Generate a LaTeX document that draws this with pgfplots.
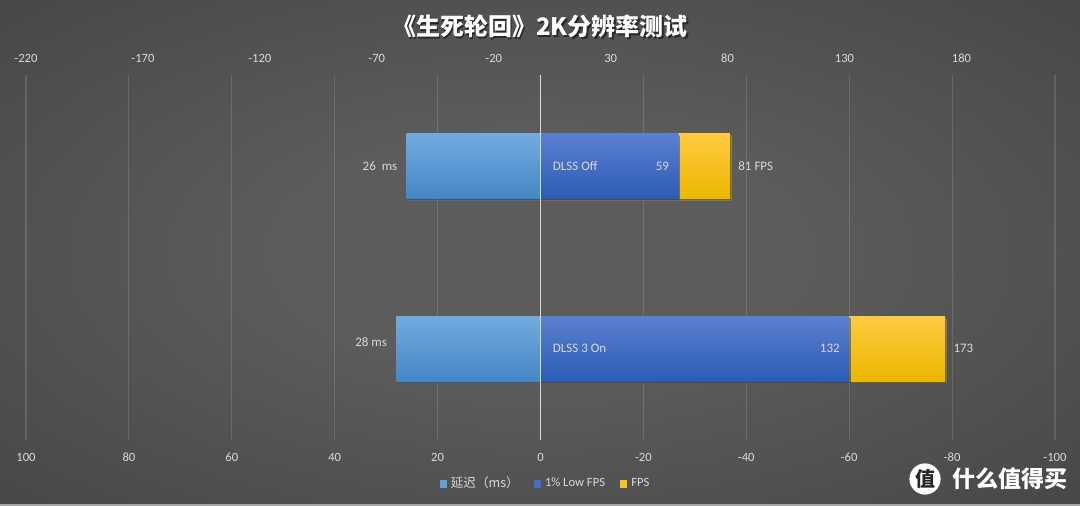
\documentclass[border=0pt]{standalone}
\usepackage{pgfplots}
\pgfplotsset{compat=1.18}
\usetikzlibrary{shadows}
\usepackage{fontspec}
\setmainfont{Carlito}
\newfontfamily\cjk{Noto Sans CJK SC}
\definecolor{bgin}{HTML}{5C5C5C}
\definecolor{bgout}{HTML}{272727}
\definecolor{txt}{HTML}{D9D9D9}
\definecolor{latTop}{HTML}{72AAE0}
\definecolor{latBot}{HTML}{4487C5}
\definecolor{lowTop}{HTML}{5B80CF}
\definecolor{lowBot}{HTML}{2C5BB7}
\definecolor{fpsTop}{HTML}{FFCA40}
\definecolor{fpsBot}{HTML}{EBB700}
\pgfdeclareradialshading{bgshade}{\pgfpoint{0bp}{0bp}}{color(0bp)=(bgin); color(12bp)=(bgin); color(72bp)=(bgout)}

\tikzset{lbl/.style={font=\fontsize{6.5}{7}\selectfont, text=txt},
  barshadow/.style={drop shadow={shadow xshift=0.7pt, shadow yshift=-0.9pt, opacity=0.35, fill=black}}}
\pgfplotsset{
  frame/.style={
    at={(13pt,33pt)}, anchor=south west,
    scale only axis, width=514.5pt, height=182.5pt,
    ymin=-0.5, ymax=1.5, ytick=\empty,
    axis line style={draw=none}, major tick length=0pt,
    tick label style={font=\fontsize{6.3}{7}\selectfont, text=txt},
    /pgf/number format/assume math mode=true,
    xbar, bar width=0.355, bar shift=0pt,
  },
  lat/.style={draw=none, barshadow, top color=latTop, bottom color=latBot, forget plot,
    point meta=x, every node near coord/.append style={lbl, anchor=east, xshift=-1.2pt}},
  low/.style={draw=none, barshadow, top color=lowTop, bottom color=lowBot, forget plot,
    point meta=x, nodes near coords,
    every node near coord/.append style={lbl, anchor=east, xshift=-1.2pt}},
  fps/.style={draw=none, barshadow, top color=fpsTop, bottom color=fpsBot, forget plot,
    point meta=explicit symbolic, nodes near coords,
    every node near coord/.append style={lbl, anchor=west, xshift=0.7pt}},
}

\begin{document}
\begin{tikzpicture}
\shade[shading=bgshade] (0,0) rectangle (540pt,253pt);
\fill[gray!70] (0,0) rectangle (540pt,0.8pt);

% latency axis (bottom scale, reversed)
\begin{axis}[frame,
  x dir=reverse, xmin=-100, xmax=100, xtick={-100,-80,...,100},
  xmajorgrids, grid style={white, opacity=0.13, line width=0.6pt},
  xticklabel style={anchor=center, yshift=-8.5pt},
]
\addplot[lat, nodes near coords={\pgfmathprintnumber{\pgfplotspointmeta}\ \ ms}]
  coordinates {(26,1)};
\addplot[lat, nodes near coords={\pgfmathprintnumber{\pgfplotspointmeta}\ ms},
  every node near coord/.append style={yshift=3.5pt}]
  coordinates {(28,0)};
\end{axis}

% FPS axis (top scale)
\begin{axis}[frame,
  xmin=-220, xmax=220, xtick={-220,-170,...,180},
  xticklabel pos=right, xticklabel style={anchor=center, yshift=8.5pt},
  legend style={at={(0.5,0)}, anchor=center, xshift=3pt, yshift=-22pt, draw=none, fill=none,
    legend columns=-1, font=\fontsize{6.3}{7}\selectfont, text=txt,
    /tikz/every even column/.append style={column sep=5.5pt}},
  legend image code/.code={\fill[#1] (0pt,-1.8pt) rectangle (3.6pt,1.8pt);},
]
\addlegendimage{fill=latTop!70!latBot, draw=none}
\addlegendimage{fill=lowTop!50!lowBot, draw=none}
\addlegendimage{fill=fpsTop!60!fpsBot, draw=none}
\legend{{\cjk 延迟（ms）}, 1\% Low FPS, FPS}
\addplot[fps] coordinates {(81,1) [81 FPS]};
\addplot[fps] coordinates {(173,0) [173]};
\addplot[low] coordinates {(59,1)};
\addplot[low] coordinates {(132,0)};
\draw[txt, line width=0.6pt] (axis cs:0,-0.5) -- (axis cs:0,1.5);
\node[lbl, anchor=west, xshift=2.7pt] at (axis cs:0,1) {DLSS Off};
\node[lbl, anchor=west, xshift=2.7pt] at (axis cs:0,0) {DLSS 3 On};
\end{axis}

% title
\node[font=\cjk\bfseries\fontsize{12}{14}\selectfont, text=black, opacity=0.5] at (270.6pt,239.0pt) {《生死轮回》2K分辨率测试};
\node[font=\cjk\bfseries\fontsize{12}{14}\selectfont, text=white] at (270pt,239.6pt) {《生死轮回》2K分辨率测试};

% watermark
\fill[white] (462.5pt,13.5pt) circle (7.8pt);
\node[font=\cjk\bfseries\fontsize{10}{10}\selectfont, text=bgout] at (462.5pt,13.5pt) {值};
\node[font=\cjk\bfseries\fontsize{11.5}{12}\selectfont, text=white] at (505pt,13.5pt) {什么值得买};

\pgfresetboundingbox
\useasboundingbox (0,0) rectangle (540pt,253pt);
\end{tikzpicture}
\end{document}
